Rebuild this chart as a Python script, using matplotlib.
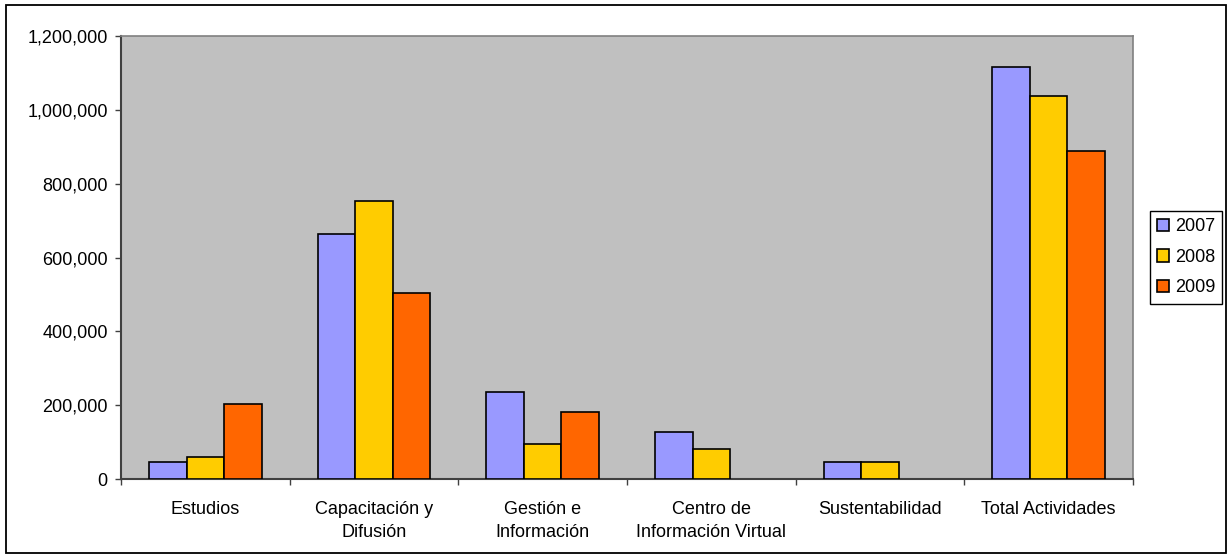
import matplotlib.pyplot as plt
import numpy as np
from matplotlib.patches import Rectangle
from matplotlib.ticker import FuncFormatter

plt.rcParams['font.family'] = ['Liberation Sans', 'DejaVu Sans']

# Datos por actividad y año
categorias = ['Estudios', 'Capacitación y\nDifusión', 'Gestión e\nInformación',
              'Centro de\nInformación Virtual', 'Sustentabilidad', 'Total Actividades']
anios = ['2007', '2008', '2009']
valores_2007 = [45000, 665000, 235000, 128000, 46000, 1116000]
valores_2008 = [61000, 752000, 96000, 82000, 46000, 1037000]
valores_2009 = [203000, 504000, 182000, 0, 0, 889000]
colores = ['#9999FF', '#FFCC00', '#FF6600']

fig = plt.figure(figsize=(12.29, 5.6), dpi=100)
ax = fig.add_axes([0.0985, 0.1446, 0.8234, 0.7911])
ax.set_facecolor('#C0C0C0')

x = np.arange(len(categorias))
ancho = 0.2222
for i, (serie, color) in enumerate(zip([valores_2007, valores_2008, valores_2009], colores)):
    barras = ax.bar(x + (i - 1) * ancho, serie, ancho, color=color, edgecolor='black',
                    linewidth=1.2, label=anios[i], zorder=3)
    # las barras en cero no se dibujan en el original
    for b, v in zip(barras, serie):
        if v == 0:
            b.set_visible(False)

ax.set_xlim(-0.5, len(categorias) - 0.5)
ax.set_ylim(0, 1200000)
ax.set_yticks(np.arange(0, 1200001, 200000))
ax.yaxis.set_major_formatter(FuncFormatter(lambda v, p: f'{int(v):,}'))
ax.tick_params(axis='y', labelsize=13, length=4, width=1, color='#404040', pad=5.5)

ax.set_xticks(x)
ax.set_xticklabels(categorias, fontsize=13, linespacing=1.5)
ax.tick_params(axis='x', which='major', length=0, pad=15.5)
ax.set_xticks(np.arange(-0.5, len(categorias)), minor=True)
ax.tick_params(axis='x', which='minor', length=4.3, width=1, color='#404040')

for lado in ['top', 'right']:
    ax.spines[lado].set_color('#808080')
    ax.spines[lado].set_linewidth(1.2)
for lado in ['left', 'bottom']:
    ax.spines[lado].set_color('#404040')
    ax.spines[lado].set_linewidth(1.5)

leg = fig.legend(loc='center', bbox_to_anchor=(0.965, 0.5405), fontsize=13,
                 frameon=True, fancybox=False, edgecolor='black', framealpha=1,
                 handlelength=0.65, handleheight=0.65, handletextpad=0.35,
                 labelspacing=0.75, borderpad=0.4, borderaxespad=0)
leg.get_frame().set_linewidth(1)

# Borde exterior del gráfico
fig.patches.append(Rectangle((0.0045, 0.013), 0.993, 0.978, transform=fig.transFigure,
                             fill=False, edgecolor='black', linewidth=1.3))

plt.savefig('out.png', dpi=100)
